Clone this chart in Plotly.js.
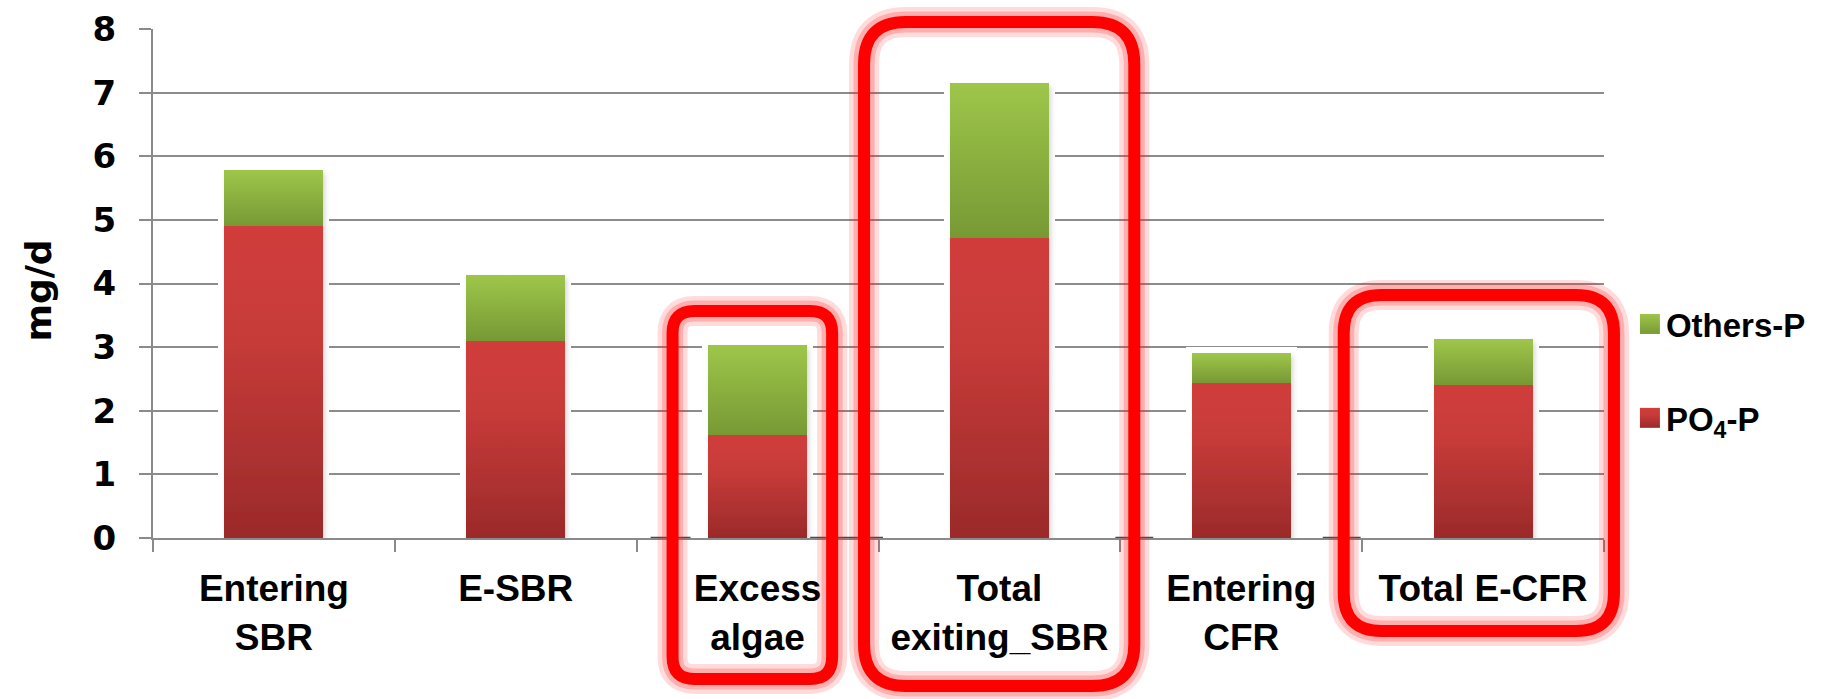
<!DOCTYPE html>
<html>
<head>
<meta charset="utf-8">
<script src="https://cdn.plot.ly/plotly-3.0.1.min.js"></script>
<style>
  html, body { margin: 0; padding: 0; background: #ffffff; }
  #chart { width: 1827px; height: 699px; }
</style>
</head>
<body>
<!-- shared paint servers: vertical bar gradients and the soft bar halo/shadow -->
<svg width="0" height="0" style="position:absolute">
  <defs>
    <linearGradient id="gradRed" x1="0" y1="0" x2="0" y2="1">
      <stop offset="0" stop-color="#d03e3b"/>
      <stop offset="0.35" stop-color="#c73b39"/>
      <stop offset="1" stop-color="#9b2a2a"/>
    </linearGradient>
    <linearGradient id="gradGreen" x1="0" y1="0" x2="0" y2="1">
      <stop offset="0" stop-color="#9ec64a"/>
      <stop offset="1" stop-color="#779935"/>
    </linearGradient>
    <filter id="barFx" x="-20%" y="-20%" width="140%" height="140%">
      <feMorphology in="SourceAlpha" operator="dilate" radius="6" result="grow"/>
      <feFlood flood-color="#ffffff"/>
      <feComposite in2="grow" operator="in" result="halo"/>
      <feGaussianBlur in="SourceAlpha" stdDeviation="2.5" result="blur"/>
      <feOffset in="blur" dx="2" dy="3" result="offBlur"/>
      <feComponentTransfer in="offBlur" result="shadow">
        <feFuncA type="linear" slope="0.35"/>
      </feComponentTransfer>
      <feMerge>
        <feMergeNode in="halo"/>
        <feMergeNode in="shadow"/>
        <feMergeNode in="SourceGraphic"/>
      </feMerge>
    </filter>
  </defs>
</svg>
<div id="chart"></div>
<script>
// Phosphorus loads per stream (mg/d)
const categories = ['Entering<br>SBR', 'E-SBR', 'Excess<br>algae', 'Total<br>exiting_SBR', 'Entering<br>CFR', 'Total E-CFR'];
const po4P = [4.90, 3.10, 1.62, 4.71, 2.44, 2.41];
const othersP = [0.88, 1.03, 1.41, 2.44, 0.46, 0.71];
const yTickValues = [0, 1, 2, 3, 4, 5, 6, 7, 8];
const seriesNames = ['PO<sub>4</sub>-P', 'Others-P'];
const yTitle = 'mg/d';

// plot box in page pixels
const W = 1827, H = 699;
const M = { l: 153, r: 219, t: 29, b: 161 };
const plotW = W - M.l - M.r, plotH = H - M.t - M.b;
const px = x => (x - M.l) / plotW;
const py = y => (H - M.b - y) / plotH;

// highlighted groups: rounded outlines in page pixels (stroke centre)
const callouts = [
  { x0: 674, x1: 834, y0: 311, y1: 679, r: 22 },
  { x0: 866, x1: 1137, y0: 22, y1: 686, r: 42 },
  { x0: 1347, x1: 1618, y0: 295, y1: 631, r: 38 }
];

function roundedPath(b) {
  const X0 = px(b.x0), X1 = px(b.x1), Y0 = py(b.y0), Y1 = py(b.y1);
  const rx = b.r / plotW, ry = b.r / plotH;
  return 'M' + (X0 + rx) + ',' + Y0 +
    ' L' + (X1 - rx) + ',' + Y0 +
    ' Q' + X1 + ',' + Y0 + ' ' + X1 + ',' + (Y0 - ry) +
    ' L' + X1 + ',' + (Y1 + ry) +
    ' Q' + X1 + ',' + Y1 + ' ' + (X1 - rx) + ',' + Y1 +
    ' L' + (X0 + rx) + ',' + Y1 +
    ' Q' + X0 + ',' + Y1 + ' ' + X0 + ',' + (Y1 + ry) +
    ' L' + X0 + ',' + (Y0 - ry) +
    ' Q' + X0 + ',' + Y0 + ' ' + (X0 + rx) + ',' + Y0 + ' Z';
}

const shapes = [];
// darker axis segments next to the outlines
[[652, 692], [812, 885], [1118, 1156], [1326, 1364]].forEach(s => {
  shapes.push({ type: 'line', xref: 'paper', yref: 'y', x0: px(s[0]), x1: px(s[1]), y0: 0, y1: 0,
    line: { color: '#4a4a4a', width: 2.5 }, layer: 'above' });
});
callouts.forEach(b => {
  const d = roundedPath(b);
  shapes.push({ type: 'path', xref: 'paper', yref: 'paper', path: d, layer: 'above',
    line: { color: 'rgba(255,0,0,0.14)', width: 30 } });
  shapes.push({ type: 'path', xref: 'paper', yref: 'paper', path: d, layer: 'above',
    line: { color: 'rgba(255,40,40,0.25)', width: 21 } });
  shapes.push({ type: 'path', xref: 'paper', yref: 'paper', path: d, layer: 'above',
    line: { color: '#ff0000', width: 12 } });
});

const data = [
  { type: 'bar', name: seriesNames[0], x: categories, y: po4P, legendgroup: 'po4', legendrank: 2,
    marker: { color: '#bd3735', line: { width: 0 } }, hoverinfo: 'skip' },
  { type: 'bar', name: seriesNames[1], x: categories, y: othersP, legendgroup: 'others', legendrank: 1,
    marker: { color: '#8bb040', line: { width: 0 } }, hoverinfo: 'skip' }
];

const boldSans = 'Liberation Sans, Arial, sans-serif';
const heavySans = 'DejaVu Sans, sans-serif';

const layout = {
  width: W, height: H,
  margin: M,
  paper_bgcolor: '#ffffff', plot_bgcolor: '#ffffff',
  font: { family: heavySans, size: 34, color: '#000000' },
  barmode: 'stack',
  bargap: 0.59,
  showlegend: true,
  legend: {
    x: px(1634), xanchor: 'left', y: py(296), yanchor: 'top',
    traceorder: 'grouped', tracegroupgap: 48,
    font: { family: boldSans, size: 33, color: '#000000', weight: 'bold' },
    bgcolor: 'rgba(0,0,0,0)'
  },
  xaxis: {
    type: 'category',
    showgrid: false, zeroline: false,
    showline: true, linecolor: '#8a8a8a', linewidth: 2,
    ticks: 'outside', tickson: 'boundaries', ticklen: 12, tickwidth: 2, tickcolor: '#8a8a8a',
    tickangle: 0,
    ticklabelstandoff: 17,
    tickfont: { family: boldSans, size: 37, color: '#000000', weight: 'bold' },
    fixedrange: true
  },
  yaxis: {
    range: [0, 8],
    tickvals: yTickValues,
    ticktext: yTickValues.map(String),
    showgrid: true, gridcolor: '#8c8c8c', gridwidth: 2,
    zeroline: false,
    showline: true, linecolor: '#8a8a8a', linewidth: 2,
    ticks: 'outside', ticklen: 12, tickwidth: 2, tickcolor: '#8a8a8a',
    ticklabelstandoff: 16,
    tickfont: { family: heavySans, size: 34, color: '#000000', weight: 'bold' },
    title: { text: yTitle, standoff: 30,
      font: { family: heavySans, size: 36, color: '#000000', weight: 'bold' } },
    fixedrange: true
  },
  shapes: shapes
};

const fills = ['url(#gradRed)', 'url(#gradGreen)'];
const swatch = 'M10,10H-10V-10H10Z';

function decorate(gd) {
  // gradient bar fills plus halo/shadow on the bar layer
  gd.querySelectorAll('.barlayer .trace').forEach((g, i) => {
    g.querySelectorAll('path').forEach(p => { p.style.fill = fills[i]; });
  });
  const barLayer = gd.querySelector('.barlayer');
  if (barLayer) barLayer.setAttribute('filter', 'url(#barFx)');
  // legend: larger gradient swatches, text pulled closer
  gd.querySelectorAll('.legend .traces').forEach(t => {
    const d = t.__data__;
    const idx = d && d[0] && d[0].trace ? d[0].trace.index : 0;
    t.querySelectorAll('.legendpoints path, path.legendbar').forEach(p => {
      p.setAttribute('d', swatch);
      p.style.d = 'path("' + swatch + '")';
      p.style.fill = fills[idx];
      p.style.stroke = 'none';
      p.style.strokeWidth = '0';
    });
    const txt = t.querySelector('text.legendtext');
    if (txt && !txt.dataset.shifted) {
      txt.setAttribute('x', String(parseFloat(txt.getAttribute('x') || '40') - 4));
      txt.dataset.shifted = '1';
    }
  });
  // axis title: heavier type, sitting a little below the plot middle
  const yt = gd.querySelector('.ytitle');
  if (yt) {
    yt.style.fontSize = '36px';
    yt.style.fontWeight = 'bold';
    yt.style.fontFamily = heavySans;
    if (yt.parentNode) yt.parentNode.setAttribute('transform', 'translate(0,7)');
  }
}

Plotly.newPlot('chart', data, layout, { staticPlot: true, displayModeBar: false }).then(gd => {
  decorate(gd);
  setTimeout(() => decorate(gd), 50);
});
</script>
</body>
</html>
